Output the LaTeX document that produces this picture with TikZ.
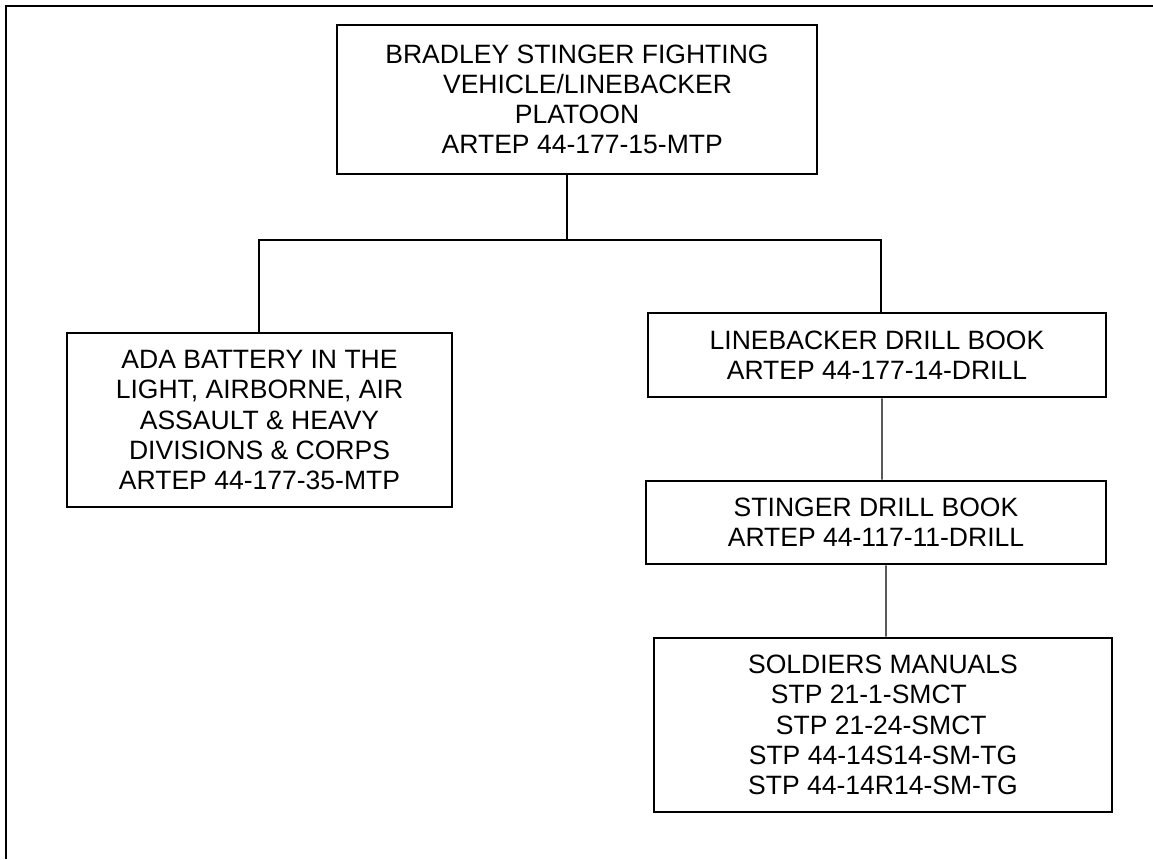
\documentclass[tikz,border=0pt]{standalone}
\usepackage{fontspec}
\setmainfont{Liberation Sans}
\tikzset{
  chartbox/.style={draw, line width=1.5pt, align=center, inner sep=0pt,
    font=\fontsize{15.1pt}{17.2pt}\selectfont},
  link/.style={line width=0.75pt},
  frameline/.style={line width=1.1pt}
}
\begin{document}
\begin{tikzpicture}[x=0.02cm,y=-0.02cm]
  \useasboundingbox (0,0) rectangle (1153,859);
  \draw[frameline] (6,859) -- (6,6) -- (1153,6);

  \node[chartbox, minimum width=9.6cm, minimum height=2.98cm] (platoon) at (577,99.5)
    {BRADLEY STINGER FIGHTING\\\kern12pt VEHICLE/LINEBACKER\\PLATOON\\\kern6pt ARTEP 44-177-15-MTP};
  \node[chartbox, minimum width=7.7cm, minimum height=3.48cm] (battery) at (259.5,420)
    {ADA BATTERY IN THE\\LIGHT, AIRBORNE, AIR\\ASSAULT \& HEAVY\\DIVISIONS \& CORPS\\ARTEP 44-177-35-MTP};
  \node[chartbox, minimum width=9.16cm, minimum height=1.68cm] (lbdrill) at (877,355)
    {LINEBACKER DRILL BOOK\\ARTEP 44-177-14-DRILL};
  \node[chartbox, minimum width=9.2cm, minimum height=1.66cm] (stdrill) at (876,522.5)
    {STINGER DRILL BOOK\\ARTEP 44-117-11-DRILL};
  \node[chartbox, minimum width=9.16cm, minimum height=3.48cm] (manuals) at (883,725)
    {SOLDIERS MANUALS\\STP 21-1-SMCT\kern16pt\\STP 21-24-SMCT\kern2pt\\STP 44-14S14-SM-TG\\STP 44-14R14-SM-TG};

  \coordinate (bus) at (567,240);
  \coordinate (busl) at (259,240);
  \coordinate (busr) at (881,240);
  \draw[link] (bus |- platoon.south) -- (bus);
  \draw[link] (busl |- battery.north) -- (busl) -- (busr) -- (busr |- lbdrill.north);
  \draw[link] ([xshift=0.1cm]lbdrill.south) -- ([xshift=0.12cm]stdrill.north);
  \draw[link] ([xshift=0.2cm]stdrill.south) -- ([xshift=0.06cm]manuals.north);
\end{tikzpicture}
\end{document}
